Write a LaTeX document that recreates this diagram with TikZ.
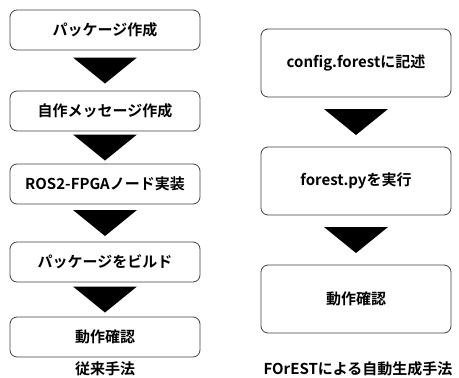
\documentclass[tikz,border=0pt]{standalone}
\usepackage{fontspec}
\setmainfont{Noto Sans CJK JP}[BoldFont={Noto Sans CJK JP Bold}]
\usepackage{tikz}
\usetikzlibrary{positioning, calc}

\begin{document}
\begin{tikzpicture}[
		x=1pt, y=-1pt,
		font=\bfseries\fontsize{15}{17}\selectfont,
		stepBox/.style={rectangle, rounded corners=7pt, draw=black!75, line width=0.8pt, minimum width=190pt, inner sep=0pt},
		oldBox/.style={stepBox, minimum height=40pt},
		newBox/.style={stepBox, minimum height=68pt},
		caption/.style={inner sep=0pt},
		downTri/.style={fill=black}
		]
		\useasboundingbox (0,0) rectangle (459,378);

		% Nodos: conventional method
		\node[oldBox] (pkg) at (105,30) {パッケージ作成};
		\node[oldBox] (msg) at (105,111) {自作メッセージ作成};
		\node[oldBox] (node) at (105,184) {ROS2-FPGAノード実装};
		\node[oldBox] (build) at (105,262) {パッケージをビルド};
		\node[oldBox] (checkA) at (105,337) {動作確認};
		\node[caption] (capA) at (105,369) {従来手法};

		% Nodos: FOrEST
		\node[newBox] (config) at (356,63) {config.forestに記述};
		\node[newBox] (run) at (356,181) {forest.pyを実行};
		\node[newBox] (checkB) at (356,299) {動作確認};
		\node[caption] (capB) at (358,369) {FOrESTによる自動生成手法};

		% Flechas
		\foreach \a/\b in {pkg/msg, msg/node, node/build, build/checkA, config/run, run/checkB}
			\fill[downTri] ($(\a.south)!0.5!(\b.north)$) ++(-32,-13) -- ++(64,0) -- ++(-32,26) -- cycle;

	\end{tikzpicture}
\end{document}
